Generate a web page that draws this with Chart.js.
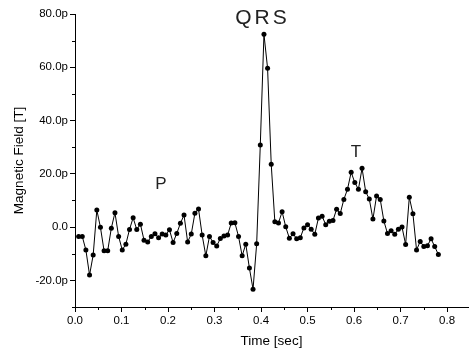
<!DOCTYPE html>
<html>
<head>
<meta charset="utf-8">
<script src="https://cdn.jsdelivr.net/npm/chart.js@4.4.0/dist/chart.umd.min.js"></script>
<style>
  html, body { margin: 0; padding: 0; background: #fff; }
  #grafico { display: block; }
</style>
</head>
<body>
<canvas id="grafico" width="472" height="353"></canvas>
<script>
// tiempos de muestreo [sec]
const tiempos = [0.0078, 0.0156, 0.0234, 0.0313, 0.0391, 0.0469, 0.0547, 0.0625, 0.0703, 0.0781,
  0.0859, 0.0938, 0.1016, 0.1094, 0.1172, 0.125, 0.1328, 0.1406, 0.1484, 0.1563,
  0.1641, 0.1719, 0.1797, 0.1875, 0.1953, 0.2031, 0.2109, 0.2188, 0.2266, 0.2344,
  0.2422, 0.25, 0.2578, 0.2656, 0.2734, 0.2813, 0.2891, 0.2969, 0.3047, 0.3125,
  0.3203, 0.3281, 0.3359, 0.3438, 0.3516, 0.3594, 0.3672, 0.375, 0.3828, 0.3906,
  0.3984, 0.4063, 0.4141, 0.4219, 0.4297, 0.4375, 0.4453, 0.4531, 0.4609, 0.4688,
  0.4766, 0.4844, 0.4922, 0.5, 0.5078, 0.5156, 0.5234, 0.5313, 0.5391, 0.5469,
  0.5547, 0.5625, 0.5703, 0.5781, 0.5859, 0.5938, 0.6016, 0.6094, 0.6172, 0.625,
  0.6328, 0.6406, 0.6484, 0.6563, 0.6641, 0.6719, 0.6797, 0.6875, 0.6953, 0.7031,
  0.7109, 0.7188, 0.7266, 0.7344, 0.7422, 0.75, 0.7578, 0.7656, 0.7734, 0.7813]

// campo magnetico [pT]
const campo = [-3.5, -3.5, -8.6, -18, -10.5, 6.4, -0.1, -8.9, -8.9, -0.4,
  5.4, -3.5, -8.6, -6.4, -0.9, 3.5, -0.9, 1.1, -4.9, -5.6,
  -3.5, -2.5, -4.0, -2.6, -3.0, -1.0, -5.8, -2.4, 1.4, 4.5,
  -5.6, -2.6, 5.2, 6.8, -3.0, -10.8, -3.5, -5.8, -7.1, -4.3,
  -3.3, -3.0, 1.5, 1.6, -3.5, -10.8, -6.4, -15.4, -23.3, -6.3,
  30.8, 72.4, 59.6, 23.6, 2.0, 1.5, 5.8, 0.1, -4.2, -2.5,
  -4.4, -4.0, -0.3, 0.9, -0.8, -2.7, 3.4, 4.1, 0.9, 2.2,
  2.5, 6.7, 5.1, 10.4, 14.2, 20.6, 16.7, 14.2, 22.1, 13.3,
  10.5, 3.0, 11.7, 10.4, 2.3, -2.4, -1.4, -2.7, -0.8, 0.0,
  -6.5, 11.2, 5.0, -8.6, -5.4, -7.3, -7.0, -4.4, -7.3, -10.3]

const ticksX = [0, 0.1, 0.2, 0.3, 0.4, 0.5, 0.6, 0.7, 0.8]
const menoresX = [0.05, 0.15, 0.25, 0.35, 0.45, 0.55, 0.65, 0.75]
const ticksY = [-20, 0, 20, 40, 60, 80]
const menoresY = [-30, -10, 10, 30, 50, 70]

// etiquetas de ondas: [texto, tiempo, campo, tamaño]
const ondas = [['P', 0.185, 16, 17], ['T', 0.604, 28, 17], ['QRS', 0.403, 78.5, 21]]

const fuente = "'Liberation Sans', Arial, sans-serif"

const marcasMenores = {
  id: 'marcasMenores',
  afterDraw(chart) {
    const ctx = chart.ctx
    const x = chart.scales.x, y = chart.scales.y
    ctx.save()
    ctx.strokeStyle = '#000'
    ctx.lineWidth = 1
    ctx.beginPath()
    menoresX.forEach(v => {
      const px = Math.round(x.getPixelForValue(v)) + 0.5
      ctx.moveTo(px, y.bottom)
      ctx.lineTo(px, y.bottom + 3)
    })
    menoresY.forEach(v => {
      const py = Math.round(y.getPixelForValue(v)) + 0.5
      ctx.moveTo(x.left, py)
      ctx.lineTo(x.left - 3, py)
    })
    ctx.stroke()
    // textos de las ondas
    ctx.fillStyle = '#222'
    ctx.textAlign = 'center'
    ctx.textBaseline = 'middle'
    ondas.forEach(o => {
      ctx.font = o[3] + 'px ' + fuente
      if (o[0].length > 1) ctx.letterSpacing = '3px'
      else ctx.letterSpacing = '0px'
      ctx.fillText(o[0], x.getPixelForValue(o[1]), y.getPixelForValue(o[2]))
    })
    ctx.restore()
  }
}

var graf = document.getElementById('grafico').getContext('2d')
var chart = new Chart(graf, {
  type: 'line',
  data: {
    datasets: [{
      data: tiempos.map((t, i) => ({ x: t, y: campo[i] })),
      borderColor: '#000',
      backgroundColor: '#000',
      borderWidth: 1,
      pointRadius: 2.5,
      pointBorderWidth: 0,
      pointBackgroundColor: '#000',
      tension: 0
    }]
  },
  options: {
    responsive: false,
    animation: false,
    layout: { padding: { top: 14, right: 0, left: 5, bottom: 0 } },
    plugins: { legend: { display: false }, tooltip: { enabled: false } },
    scales: {
      x: {
        type: 'linear',
        min: 0,
        max: 0.845,
        afterBuildTicks: s => { s.ticks = ticksX.map(v => ({ value: v })) },
        afterFit: s => { s.height = 46 },
        border: { display: true, color: '#000', width: 1 },
        grid: { drawOnChartArea: false, drawTicks: true, tickLength: 5, color: '#000' },
        ticks: {
          color: '#000',
          padding: 2,
          maxRotation: 0,
          font: { family: fuente, size: 11.5 },
          callback: v => v.toFixed(1)
        },
        title: {
          display: true,
          text: 'Time [sec]',
          color: '#000',
          font: { family: fuente, size: 13.5 },
          padding: { top: 2, bottom: 4 }
        }
      },
      y: {
        type: 'linear',
        min: -30,
        max: 80,
        afterBuildTicks: s => { s.ticks = ticksY.map(v => ({ value: v })) },
        afterFit: s => { s.width = 70 },
        border: { display: true, color: '#000', width: 1 },
        grid: { drawOnChartArea: false, drawTicks: true, tickLength: 5, color: '#000' },
        ticks: {
          color: '#000',
          padding: 2,
          font: { family: fuente, size: 11.5 },
          callback: v => v === 0 ? '0.0' : v.toFixed(1) + 'p'
        },
        title: {
          display: true,
          text: 'Magnetic Field [T]',
          color: '#000',
          font: { family: fuente, size: 13.5 },
          padding: { top: 6, bottom: 4 }
        }
      }
    }
  },
  plugins: [marcasMenores]
})
</script>
</body>
</html>
